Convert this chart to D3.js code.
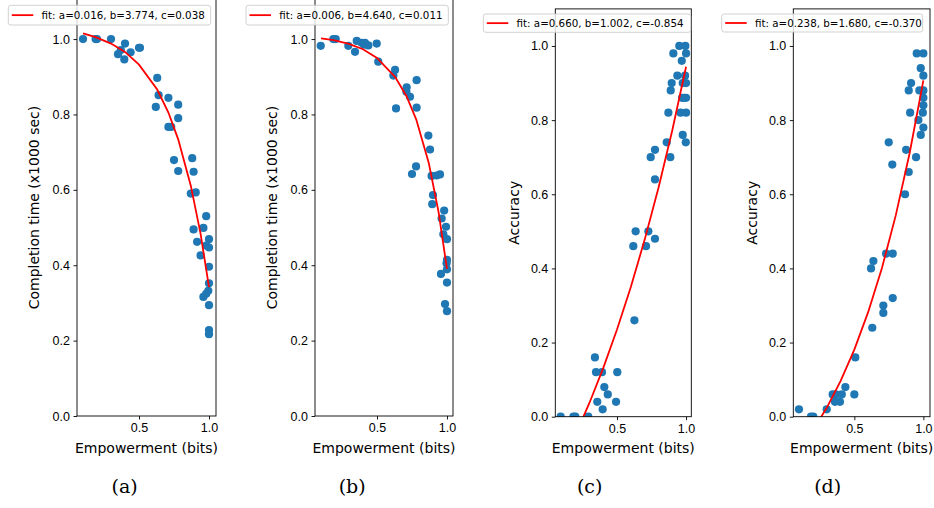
<!DOCTYPE html>
<html>
<head>
<meta charset="utf-8">
<script src="https://cdn.jsdelivr.net/npm/d3@7"></script>
<style>
  body { margin: 0; background: #fff; }
  svg { display: block; font-family: "DejaVu Sans", sans-serif; }
  .tick text { font-size: 12.5px; fill: #000; }
  .tick line { stroke: #000; stroke-width: 0.9; }
</style>
</head>
<body>
<svg id="chart" width="934" height="508"></svg>
<script>
// (a) completion time vs empowerment
var empA = [0.10, 0.19, 0.20, 0.30, 0.35, 0.37, 0.40, 0.395, 0.44, 0.50, 0.507, 0.63, 0.64, 0.62, 0.71, 0.78, 0.78, 0.71, 0.73, 0.75, 0.78,
  0.88, 0.89, 0.87, 0.905, 0.98, 0.89, 0.96, 0.915, 1.0, 0.98, 1.0, 0.94, 1.0, 1.0, 0.995, 0.98, 0.96, 1.0, 1.0, 1.0];
var timeA = [1.0, 1.0, 1.0, 1.0, 0.96, 0.971, 0.988, 0.946, 0.965, 0.977, 0.977, 0.897, 0.851, 0.820, 0.844, 0.826, 0.790, 0.767, 0.767, 0.679, 0.650,
  0.684, 0.648, 0.590, 0.593, 0.530, 0.495, 0.499, 0.462, 0.469, 0.452, 0.447, 0.426, 0.396, 0.352, 0.332, 0.324, 0.316, 0.294, 0.228, 0.217];
var fitXA = [0.10, 0.19, 0.30, 0.40, 0.50, 0.63, 0.71, 0.78, 0.87, 0.94, 1.0];
var fitYA = [1.015, 1.005, 0.988, 0.966, 0.932, 0.866, 0.805, 0.734, 0.611, 0.483, 0.342];

// (b)
var empB = [0.098, 0.188, 0.205, 0.295, 0.343, 0.355, 0.39, 0.414, 0.407, 0.438, 0.498, 0.509, 0.629, 0.617, 0.636, 0.712, 0.71, 0.736, 0.783, 0.783,
  0.867, 0.879, 0.779, 0.75, 0.89, 0.926, 0.95, 0.90, 0.895, 0.98, 0.962, 0.993, 0.974, 1.0, 1.0, 0.997, 1.0, 0.957, 1.0, 0.986, 1.0];
var timeB = [0.982, 1.0, 1.0, 0.982, 0.966, 0.995, 0.99, 0.99, 0.985, 0.983, 0.988, 0.940, 0.918, 0.903, 0.816, 0.872, 0.86, 0.847, 0.891, 0.818,
  0.744, 0.707, 0.662, 0.642, 0.637, 0.638, 0.641, 0.586, 0.562, 0.545, 0.524, 0.502, 0.482, 0.469, 0.414, 0.405, 0.389, 0.377, 0.354, 0.297, 0.278];
var fitXB = [0.10, 0.19, 0.30, 0.40, 0.50, 0.63, 0.71, 0.78, 0.87, 0.94, 1.0];
var fitYB = [1.002, 0.997, 0.987, 0.973, 0.950, 0.899, 0.849, 0.787, 0.671, 0.541, 0.390];

// (c) accuracy
var empC = [0.908, 0.951, 0.995, 1.0, 0.969, 0.937, 0.993, 0.896, 0.889, 0.976, 1.0, 0.971, 0.986, 1.0, 0.872, 0.96, 1.0, 0.976, 0.998, 0.86,
  0.744, 0.775, 0.886, 0.775, 0.635, 0.727, 0.618, 0.71, 0.775, 0.626, 0.34, 0.348, 0.391, 0.502, 0.408, 0.433, 0.357, 0.493, 0.396,
  0.092, 0.184, 0.198, 0.292];
var accC = [0.98, 1.0, 1.0, 0.98, 0.96, 0.92, 0.92, 0.90, 0.88, 0.90, 0.90, 0.86, 0.86, 0.86, 0.82, 0.82, 0.82, 0.76, 0.74, 0.74,
  0.70, 0.72, 0.70, 0.64, 0.50, 0.50, 0.46, 0.46, 0.48, 0.26, 0.16, 0.12, 0.12, 0.12, 0.08, 0.06, 0.04, 0.04, 0.02,
  0, 0, 0, 0];
var fitXC = [0.09, 0.2, 0.3, 0.4, 0.5, 0.6, 0.7, 0.8, 0.9, 1.0];
var fitYC = [-0.132, -0.048, 0.037, 0.131, 0.235, 0.350, 0.477, 0.617, 0.772, 0.944];

// (d)
var empD = [0.952, 1.0, 0.981, 1.0, 0.911, 0.894, 0.971, 1.0, 1.0, 1.0, 0.904, 0.996, 0.964, 1.0, 0.981, 0.749, 0.875, 0.947, 0.775, 0.894,
  0.867, 0.621, 0.638, 0.73, 0.778, 0.778, 0.71, 0.71, 0.63, 0.507, 0.435, 0.343, 0.367, 0.409, 0.36, 0.396, 0.50, 0.30, 0.099, 0.186, 0.203];
var accD = [0.98, 0.98, 0.94, 0.92, 0.90, 0.88, 0.88, 0.88, 0.86, 0.84, 0.82, 0.82, 0.80, 0.78, 0.76, 0.74, 0.72, 0.70, 0.68, 0.66,
  0.60, 0.40, 0.42, 0.44, 0.44, 0.32, 0.30, 0.28, 0.24, 0.16, 0.08, 0.06, 0.06, 0.06, 0.04, 0.04, 0.06, 0.02, 0.02, 0, 0];
var fitXD = [0.09, 0.2, 0.3, 0.4, 0.5, 0.6, 0.7, 0.8, 0.9, 1.0];
var fitYD = [-0.093, -0.037, 0.024, 0.096, 0.181, 0.282, 0.401, 0.543, 0.710, 0.907];

var yTicks = [0, 0.2, 0.4, 0.6, 0.8, 1.0];
var xTicks = [0.5, 1.0];
var xLabel = "Empowerment (bits)";
var fitLabels = ["fit: a=0.016, b=3.774, c=0.038", "fit: a=0.006, b=4.640, c=0.011",
  "fit: a=0.660, b=1.002, c=-0.854", "fit: a=0.238, b=1.680, c=-0.370"];
var yLabels = ["Completion time (x1000 sec)", "Completion time (x1000 sec)", "Accuracy", "Accuracy"];
var captions = ["(a)", "(b)", "(c)", "(d)"];

// layout of the four panels (pixels)
var panels = [
  { x: empA, y: timeA, fx: fitXA, fy: fitYA, left: 77, right: 216, top: -0.9, bottom: 416, xDom: [0.057, 1.05], yMax: 1.106,
    yLabX: 38.5, capX: 124.7, leg: { x0: 8.3, x1: 210.7, y0: 5.3, y1: 25 } },
  { x: empB, y: timeB, fx: fitXB, fy: fitYB, left: 315, right: 453, top: -0.9, bottom: 416, xDom: [0.057, 1.043], yMax: 1.106,
    yLabX: 276.5, capX: 352.2, leg: { x0: 246, x1: 448.3, y0: 5.3, y1: 25 } },
  { x: empC, y: accC, fx: fitXC, fy: fitYC, left: 555.3, right: 691.3, top: 8.9, bottom: 416.7, xDom: [0.053, 1.038], yMax: 1.1,
    yLabX: 519, capX: 589.7, leg: { x0: 483.3, x1: 690.7, y0: 14, y1: 32.3 } },
  { x: empD, y: accD, fx: fitXD, fy: fitYD, left: 793.3, right: 930, top: 8.9, bottom: 416.7, xDom: [0.058, 1.048], yMax: 1.1,
    yLabX: 756.7, capX: 827.7, leg: { x0: 721.7, x1: 922.7, y0: 14, y1: 32 } }
];

var svg = d3.select("#chart");
var fmt = d3.format(".1f");

panels.forEach(function (p, k) {
  var x = d3.scaleLinear().domain(p.xDom).range([p.left, p.right]);
  var y = d3.scaleLinear().domain([0, p.yMax]).range([p.bottom, p.top]);
  var g = svg.append("g");

  g.append("clipPath").attr("id", "clip" + k)
    .append("rect")
    .attr("x", p.left).attr("y", p.top)
    .attr("width", p.right - p.left).attr("height", p.bottom - p.top);

  var plot = g.append("g").attr("clip-path", "url(#clip" + k + ")");

  /* points */
  plot.selectAll("circle")
    .data(p.x)
    .enter().append("circle")
    .attr("cx", function (d) { return x(d); })
    .attr("cy", function (d, i) { return y(p.y[i]); })
    .attr("r", 4.1)
    .attr("fill", "#1f77b4");

  /* fit line */
  var line = d3.line()
    .x(function (d) { return x(d); })
    .y(function (d, i) { return y(p.fy[i]); });
  plot.append("path")
    .datum(p.fx)
    .attr("d", line)
    .attr("fill", "none")
    .attr("stroke", "#ff0000")
    .attr("stroke-width", 1.8);

  /* axes */
  var yAxis = d3.axisLeft(y).tickValues(yTicks).tickFormat(fmt).tickSize(3.5).tickPadding(3.5);
  var xAxis = d3.axisBottom(x).tickValues(xTicks).tickFormat(fmt).tickSize(3.5).tickPadding(3.5);
  g.append("g").attr("transform", "translate(" + p.left + ",0)").call(yAxis)
    .call(function (s) { s.select(".domain").remove(); });
  g.append("g").attr("transform", "translate(0," + p.bottom + ")").call(xAxis)
    .call(function (s) { s.select(".domain").remove(); });

  g.append("rect")
    .attr("x", p.left).attr("y", p.top)
    .attr("width", p.right - p.left).attr("height", p.bottom - p.top)
    .attr("fill", "none").attr("stroke", "#000").attr("stroke-width", 0.9);

  /* labels */
  g.append("text")
    .attr("x", (p.left + p.right) / 2).attr("y", 453)
    .attr("text-anchor", "middle").attr("font-size", 14)
    .text(xLabel);
  g.append("text")
    .attr("transform", "translate(" + p.yLabX + "," + (p.top + p.bottom) / 2 + ") rotate(-90)")
    .attr("text-anchor", "middle").attr("font-size", 14)
    .text(yLabels[k]);
  g.append("text")
    .attr("x", p.capX).attr("y", 493)
    .attr("text-anchor", "middle")
    .attr("font-family", "'DejaVu Serif', serif").attr("font-size", 19)
    .text(captions[k]);

  /* legend */
  var L = p.leg, cy = (L.y0 + L.y1) / 2;
  g.append("rect")
    .attr("x", L.x0).attr("y", L.y0)
    .attr("width", L.x1 - L.x0).attr("height", L.y1 - L.y0)
    .attr("rx", 2.5)
    .attr("fill", "#fff").attr("fill-opacity", 0.8)
    .attr("stroke", "#cccccc").attr("stroke-width", 0.9);
  g.append("line")
    .attr("x1", L.x0 + 3.5).attr("x2", L.x0 + 25)
    .attr("y1", cy).attr("y2", cy)
    .attr("stroke", "#ff0000").attr("stroke-width", 1.8);
  g.append("text")
    .attr("x", L.x0 + 33.3).attr("y", cy)
    .attr("dy", "0.36em")
    .attr("font-size", 10.3)
    .text(fitLabels[k]);
});
</script>
</body>
</html>
